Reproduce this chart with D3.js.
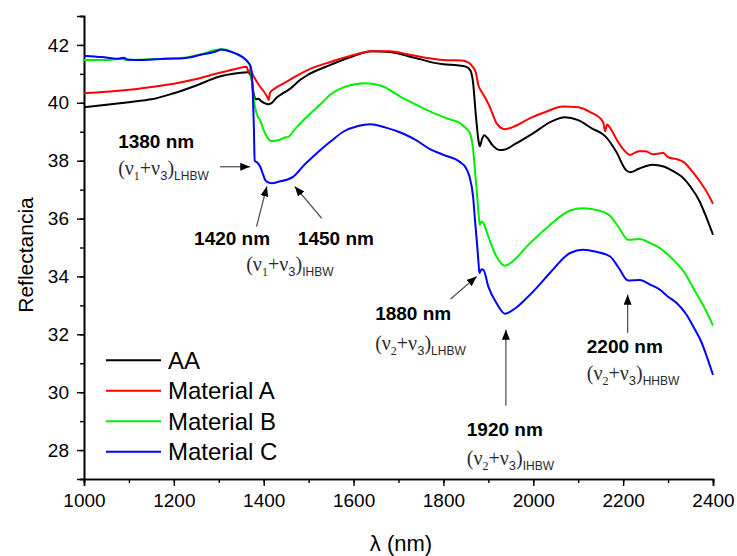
<!DOCTYPE html>
<html>
<head>
<meta charset="utf-8">
<script src="https://d3js.org/d3.v7.min.js"></script>
<style>
  body { margin: 0; background: #fff; }
  svg text { font-family: "Liberation Sans", Arial, sans-serif; }
</style>
</head>
<body>
<svg width="737" height="556"></svg>
<script>
// series (wavelength nm, reflectance)
var aaWl = [1000,1050,1100,1130,1150,1200,1250,1300,1340,1365,1372,1378,1382,1388,1395,1403,1410,1418,1430,1445,1460,1480,1500,1550,1600,1640,1680,1720,1750,1780,1800,1830,1850,1860,1866,1872,1878,1881,1886,1891,1897,1910,1925,1935,1960,2000,2040,2070,2100,2130,2160,2185,2205,2215,2235,2265,2290,2310,2330,2350,2370,2385,2400];
var aaR  = [39.85,39.93,40.02,40.08,40.12,40.33,40.6,40.9,41.02,41.06,40.9,40.3,40.12,40.14,40.05,39.98,39.95,40.0,40.2,40.35,40.5,40.78,40.98,41.32,41.62,41.78,41.76,41.62,41.5,41.38,41.33,41.3,41.25,41.12,40.7,39.6,38.7,38.5,38.75,38.88,38.8,38.52,38.37,38.38,38.58,38.95,39.35,39.5,39.4,39.12,38.85,38.3,37.7,37.6,37.72,37.86,37.8,37.65,37.45,37.1,36.6,36.05,35.44];

var matAWl = [1000,1050,1100,1150,1200,1250,1300,1340,1362,1366,1370,1375,1380,1390,1400,1408,1411,1414,1425,1450,1475,1500,1550,1600,1640,1680,1720,1760,1800,1840,1855,1865,1872,1878,1885,1892,1903,1918,1937,1960,1993,2030,2066,2100,2130,2150,2156,2160,2164,2170,2186,2200,2215,2235,2250,2266,2280,2289,2300,2320,2335,2350,2370,2385,2400];
var matAR  = [40.33,40.38,40.45,40.55,40.66,40.82,41.03,41.18,41.25,41.05,41.15,41.0,40.85,40.6,40.4,40.2,40.1,40.35,40.5,40.72,40.95,41.15,41.42,41.65,41.78,41.78,41.68,41.56,41.48,41.46,41.4,41.25,41.05,40.6,40.38,40.2,39.87,39.3,39.09,39.2,39.47,39.7,39.87,39.85,39.65,39.45,39.3,39.02,39.25,39.15,38.72,38.4,38.2,38.33,38.33,38.22,38.25,38.27,38.12,38.05,37.95,37.7,37.3,36.95,36.51];

var matBWl = [1000,1050,1080,1100,1133,1180,1222,1260,1296,1310,1330,1350,1363,1370,1375,1380,1386,1392,1400,1408,1416,1436,1446,1455,1470,1496,1525,1548,1580,1625,1660,1711,1750,1785,1810,1837,1850,1859,1866,1870,1874,1878,1881,1885,1889,1900,1918,1937,1960,1985,2010,2037,2082,2111,2140,2171,2190,2211,2237,2260,2282,2300,2319,2340,2356,2380,2400];
var matBR  = [41.48,41.48,41.52,41.47,41.5,41.52,41.56,41.68,41.83,41.85,41.75,41.6,41.45,41.25,40.5,39.9,39.55,39.4,39.05,38.8,38.68,38.72,38.8,38.83,39.1,39.52,39.93,40.28,40.55,40.68,40.6,40.15,39.85,39.6,39.45,39.3,39.12,38.95,38.4,37.7,36.99,36.2,35.78,35.9,35.84,35.38,34.69,34.37,34.6,35.03,35.4,35.78,36.28,36.36,36.3,36.09,35.7,35.27,35.29,35.15,34.98,34.75,34.46,34.05,33.6,32.95,32.3];

var matCWl = [1000,1040,1074,1089,1095,1133,1180,1222,1260,1296,1304,1330,1356,1364,1371,1375,1378,1380,1386,1392,1398,1403,1410,1418,1435,1451,1466,1490,1518,1550,1577,1610,1637,1670,1711,1740,1770,1800,1837,1850,1858,1866,1870,1874,1878,1880,1885,1889,1900,1918,1937,1960,1985,2010,2037,2082,2111,2140,2171,2190,2211,2237,2260,2282,2300,2319,2340,2356,2375,2386,2400];
var matCR  = [41.63,41.58,41.52,41.56,41.5,41.48,41.52,41.54,41.66,41.79,41.84,41.75,41.54,41.42,41.25,40.6,39.2,38.0,37.93,37.8,37.55,37.34,37.25,37.22,37.28,37.34,37.45,37.85,38.26,38.68,39.0,39.2,39.26,39.15,38.93,38.7,38.4,38.2,37.95,37.75,37.45,36.76,36.0,35.27,34.5,34.12,34.25,34.23,33.65,33.08,32.71,32.9,33.25,33.65,34.12,34.81,34.92,34.85,34.69,34.3,33.86,33.88,33.72,33.54,33.3,33.08,32.7,32.27,31.7,31.24,30.6];

var seriesNames = ["AA", "Material A", "Material B", "Material C"];
var seriesColors = ["#000000", "#ff0000", "#00ee00", "#0000ff"];
var seriesWl = [aaWl, matAWl, matBWl, matCWl];
var seriesR = [aaR, matAR, matBR, matCR];

var xTicks = [1000, 1200, 1400, 1600, 1800, 2000, 2200, 2400];
var yTicks = [28, 30, 32, 34, 36, 38, 40, 42];

// band labels, placed in data units (wavelength, reflectance)
var bands = [
  {nm: "1380 nm", nu: "1", band: "LHBW", at: [1076, 38.44], nuAt: [1076, 37.5], arrow: [[1303, 37.79], [1370, 37.79]]},
  {nm: "1420 nm", nu: null, band: null, at: [1245, 35.09], arrow: [[1384, 35.72], [1407, 37.11]]},
  {nm: "1450 nm", nu: null, band: null, at: [1476, 35.09], arrow: [[1529, 36.01], [1469, 37.11]]},
  {nm: null, nu: "1", band: "IHBW", nuAt: [1361, 34.2]},
  {nm: "1880 nm", nu: "2", band: "LHBW", at: [1648, 32.48], nuAt: [1648, 31.47], arrow: [[1816, 33.22], [1874, 34.0]]},
  {nm: "1920 nm", nu: "2", band: "IHBW", at: [1852, 28.47], nuAt: [1852, 27.5], arrow: [[1939, 29.53], [1939, 32.16]]},
  {nm: "2200 nm", nu: "2", band: "HHBW", at: [2119, 31.35], nuAt: [2119, 30.43], arrow: [[2210, 32.05], [2210, 33.37]]}
];

var svg = d3.select("svg"),
    margin = {top: 16, right: 24, bottom: 77, left: 84},
    width = +svg.attr("width") - margin.left - margin.right,
    height = +svg.attr("height") - margin.top - margin.bottom;

var g = svg.append("g")
    .attr("transform", "translate(" + margin.left + "," + margin.top + ")");

var x = d3.scaleLinear().domain([1000, 2400]).range([0, width]);
var y = d3.scaleLinear().domain([27, 43]).range([height, 0]);

// axes: major ticks with labels, minor ticks without
var xAxis = g.append("g")
    .attr("transform", "translate(0," + height + ")");
xAxis.call(d3.axisBottom(x).tickValues(d3.range(1000, 2401, 100)).tickSize(4).tickFormat(""));
xAxis.append("g").call(d3.axisBottom(x).tickValues(xTicks).tickSize(7).tickPadding(8).tickFormat(d3.format("d")));

var yAxis = g.append("g");
yAxis.call(d3.axisLeft(y).tickValues(d3.range(27, 43.1, 1)).tickSize(4).tickFormat(""));
yAxis.append("g").call(d3.axisLeft(y).tickValues(yTicks).tickSize(7).tickPadding(8));

g.selectAll(".domain").attr("stroke", "#000").attr("stroke-width", 1.6);
g.selectAll(".tick line").attr("stroke", "#000").attr("stroke-width", 1.4);
g.selectAll(".tick text")
    .attr("fill", "#000")
    .style("font-size", "19px")
    .style("font-family", "'Liberation Sans', Arial, sans-serif");

// axis titles
svg.append("text")
    .attr("transform", "translate(33,255) rotate(-90)")
    .attr("text-anchor", "middle")
    .style("font-size", "21px")
    .text("Reflectancia");

svg.append("text")
    .attr("x", 401)
    .attr("y", 551)
    .attr("text-anchor", "middle")
    .style("font-size", "22px")
    .text("λ (nm)");

// the spectra
var line = d3.line()
    .x(function (d) { return x(d[0]); })
    .y(function (d) { return y(d[1]); })
    .curve(d3.curveMonotoneX);

seriesNames.forEach(function (name, i) {
    var pts = seriesWl[i].map(function (w, j) { return [w, seriesR[i][j]]; });
    g.append("path")
        .datum(pts)
        .attr("fill", "none")
        .attr("stroke", seriesColors[i])
        .attr("stroke-width", 2)
        .attr("stroke-linejoin", "round")
        .attr("d", line);
});

// arrow head
svg.append("defs").append("marker")
    .attr("id", "head")
    .attr("viewBox", "0 0 10 8")
    .attr("refX", 10)
    .attr("refY", 4)
    .attr("markerWidth", 10)
    .attr("markerHeight", 8)
    .attr("markerUnits", "userSpaceOnUse")
    .attr("orient", "auto")
    .append("path")
    .attr("d", "M0,0 L10,4 L0,8 Z")
    .attr("fill", "#000");

var ann = g.append("g");

bands.forEach(function (b) {
    if (b.arrow) {
        ann.append("line")
            .attr("x1", x(b.arrow[0][0])).attr("y1", y(b.arrow[0][1]))
            .attr("x2", x(b.arrow[1][0])).attr("y2", y(b.arrow[1][1]))
            .attr("stroke", "#555")
            .attr("stroke-width", 1.3)
            .attr("marker-end", "url(#head)");
    }
    if (b.nm) {
        ann.append("text")
            .attr("x", x(b.at[0]))
            .attr("y", y(b.at[1]))
            .style("font-size", "19px")
            .style("font-weight", "bold")
            .text(b.nm);
    }
    if (b.nu) {
        // (ν1+ν3)LHBW style label
        var t = ann.append("text")
            .attr("x", x(b.nuAt[0]))
            .attr("y", y(b.nuAt[1]))
            .attr("fill", "#2a2a2a")
            .style("font-family", "'Liberation Serif', 'Times New Roman', serif")
            .style("font-size", "20px");
        t.append("tspan").text("(ν");
        t.append("tspan").attr("dy", 5).style("font-size", "12px").text(b.nu);
        t.append("tspan").attr("dy", -5).text("+ν");
        t.append("tspan").attr("dy", 5).style("font-size", "13px")
            .style("font-family", "'Liberation Sans', Arial, sans-serif").text("3");
        t.append("tspan").attr("dy", -5).text(")");
        t.append("tspan").attr("dy", 5).style("font-size", "12px")
            .style("font-family", "'Liberation Sans', Arial, sans-serif").text(b.band);
    }
});

// legend
var legend = g.append("g")
    .attr("transform", "translate(22," + y(31.1) + ")");

seriesNames.forEach(function (name, i) {
    var row = legend.append("g").attr("transform", "translate(0," + (i * 30.5) + ")");
    row.append("line")
        .attr("x1", 0).attr("x2", 55)
        .attr("stroke", seriesColors[i])
        .attr("stroke-width", 2);
    row.append("text")
        .attr("x", 62)
        .attr("dy", "0.36em")
        .style("font-size", "24px")
        .text(name);
});
</script>
</body>
</html>
